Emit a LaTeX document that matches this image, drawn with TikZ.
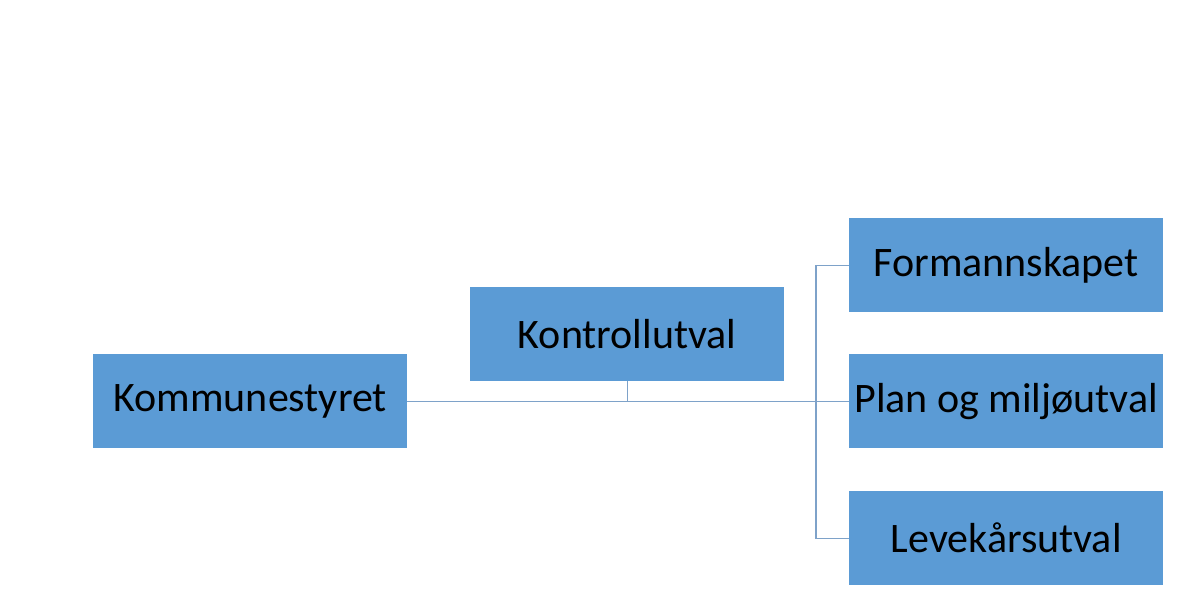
\documentclass[tikz,border=0pt]{standalone}
\usepackage{fontspec}
\setmainfont{Carlito}
\definecolor{boxblue}{HTML}{5B9BD5}
\definecolor{linkblue}{HTML}{7EA2C9}
\tikzset{
  orgbox/.style={fill=boxblue, draw=none, minimum width=314pt, minimum height=94pt, inner sep=0pt, font=\fontsize{42}{48}\selectfont, text=black, anchor=north west},
  link/.style={draw=linkblue, line width=1.4pt}
}
\begin{document}
\begin{tikzpicture}[x=1pt,y=-1pt]
\useasboundingbox (0,0) rectangle (1190,606);
\fill[white] (0,0) rectangle (1190,606);
\node[orgbox] (komm) at (93,354) {Kommunestyret};
\node[orgbox] (kontroll) at (470,287) {Kontrollutval};
\node[orgbox] (form) at (849,218) {Formannskapet};
\node[orgbox] (plan) at (849,354) {Plan og miljøutval};
\node[orgbox] (leve) at (849,491) {Levekårsutval};
\coordinate (junc) at (kontroll.south |- komm.east);
\coordinate (spine) at (816,0);
\draw[link] (komm.east) -- (plan.west);
\draw[link] (kontroll.south) -- (junc);
\draw[link] (form.west) -- (spine |- form.west) -- (spine |- leve.west) -- (leve.west);
\end{tikzpicture}
\end{document}
